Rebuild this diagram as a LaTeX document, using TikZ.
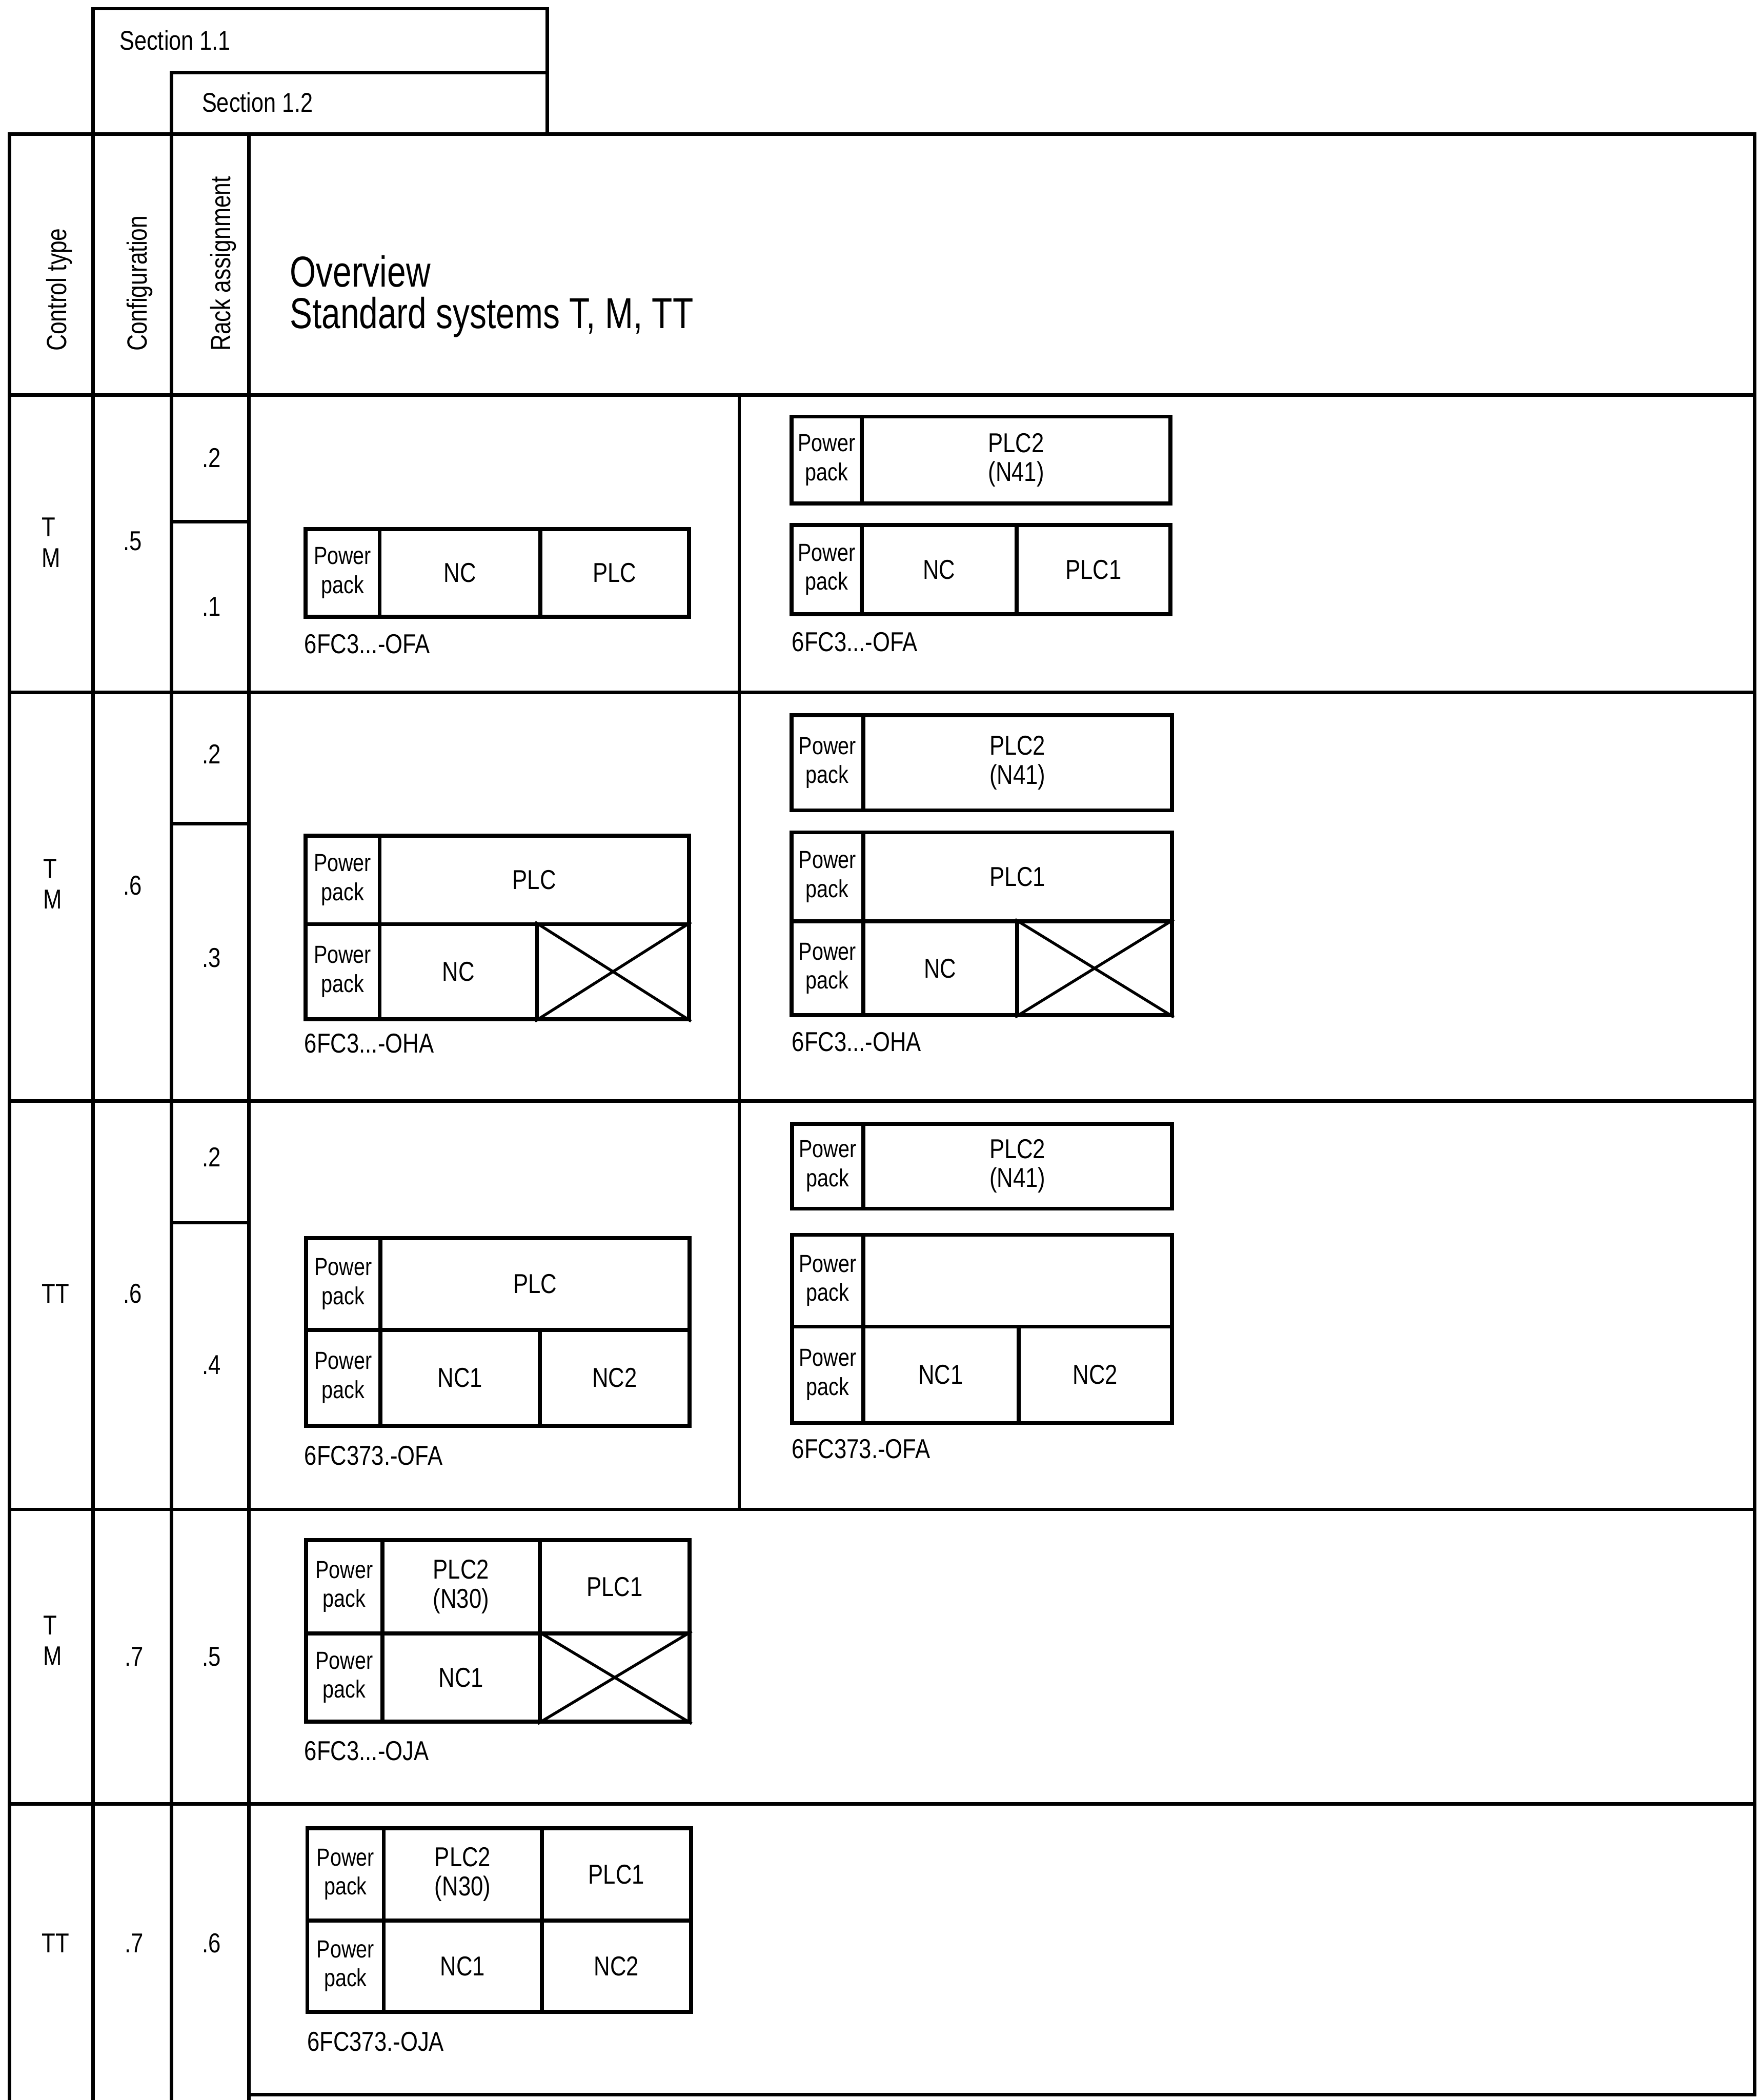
\documentclass[tikz,border=0pt]{standalone}
\usepackage{fontspec}
\setmainfont{Liberation Sans}[FakeStretch=0.82]
\newfontfamily\titlefont{Liberation Sans}[FakeStretch=0.78]

\begin{document}
\begin{tikzpicture}[
  x=0.2mm, y=-0.2mm,
  gridline/.style={line width=1.5pt, line cap=rect},
  cellbox/.style n args={4}{at={(#1/2+#3/2,#2/2+#4/2)}, minimum width=(#3-#1)*0.2mm, minimum height=(#4-#2)*0.2mm},
  rackcell/.style={draw, line width=1.7pt, inner sep=0pt, align=center, font=\fontsize{11.6}{12.3}\selectfont},
  ppcell/.style={rackcell, font=\fontsize{10.5}{12.3}\selectfont},
  crossline/.style={line width=1.2pt},
  sect/.style={inner sep=0pt, anchor=west, font=\fontsize{11.5}{13}\selectfont},
  colhead/.style={inner sep=0pt, rotate=90, anchor=base west, font=\fontsize{11.8}{14}\selectfont},
  bigtitle/.style={inner sep=0pt, anchor=base west, font=\titlefont\fontsize{18.4}{22}\selectfont},
  ctype/.style={inner sep=0pt, anchor=west, align=left, font=\fontsize{11.6}{13}\selectfont},
  idx/.style={inner sep=0pt, font=\fontsize{11.6}{13}\selectfont},
  partno/.style={inner sep=0pt, anchor=west, font=\fontsize{11.6}{13}\selectfont}
]
\useasboundingbox (0,0) rectangle (1314,1568);

% table rules
\draw[gridline] (7,100) -- (7,1568);
\draw[gridline] (69.5,6.5) -- (69.5,1568);
\draw[gridline] (128,54) -- (128,1568);
\draw[gridline] (186,100) -- (186,1568);
\draw[gridline] (69.5,6.5) -- (408.5,6.5) -- (408.5,100);
\draw[gridline] (128,54) -- (408.5,54);
\draw[gridline] (7,100) -- (1310,100) -- (1310,1564) -- (186,1564);
\foreach \y in {295,517,822,1127,1347}
  \draw[gridline] (7,\y) -- (1310,\y);
\foreach \y in {389.5,615,913}
  \draw[gridline] (128,\y) -- (186,\y);
\draw[gridline] (552,295) -- (552,1127);

% header
\node[sect] (sec11) at (89,30) {Section 1.1};
\node[sect] (sec12) at (150.5,76.5) {Section 1.2};
\node[colhead] (hctl) at (49.5,262.5) {Control type};
\node[colhead] (hcfg) at (109.5,262.5) {Configuration};
\node[colhead] (hrack) at (172,262.5) {Rack assignment};
\node[bigtitle] (ov1) at (216,214) {Overview};
\node[bigtitle] (ov2) at (216,245) {Standard systems T, M, TT};

% row labels
\node[ctype] (ct1) at (31,405) {T\\M};
\node[idx] (cf1) at (99,404) {.5};
\node[idx] (ra1a) at (158,342) {.2};
\node[idx] (ra1b) at (158,453) {.1};

\node[ctype] (ct2) at (32,660) {T\\M};
\node[idx] (cf2) at (99,661) {.6};
\node[idx] (ra2a) at (158,563) {.2};
\node[idx] (ra2b) at (158,715) {.3};

\node[ctype] (ct3) at (31,966) {TT};
\node[idx] (cf3) at (99,966) {.6};
\node[idx] (ra3a) at (158,864) {.2};
\node[idx] (ra3b) at (158,1019) {.4};

\node[ctype] (ct4) at (32,1225) {T\\M};
\node[idx] (cf4) at (100,1237) {.7};
\node[idx] (ra4) at (158,1237) {.5};

\node[ctype] (ct5) at (31,1451) {TT};
\node[idx] (cf5) at (100,1451) {.7};
\node[idx] (ra5) at (158,1451) {.6};

% row 1
\node[ppcell, cellbox={228}{395}{283.5}{460.5}] (a1pp) {Power\\pack};
\node[rackcell, cellbox={283.5}{395}{403.5}{460.5}] (a1nc) {NC};
\node[rackcell, cellbox={403.5}{395}{514.5}{460.5}] (a1plc) {PLC};
\node[partno] (a1id) at (227,481) {6FC3...-OFA};

\node[ppcell, cellbox={591}{311}{643.5}{376}] (b1pp) {Power\\pack};
\node[rackcell, cellbox={643.5}{311}{874}{376}] (b1plc2) {PLC2\\(N41)};
\node[ppcell, cellbox={591}{392}{643.5}{458.5}] (b1pp2) {Power\\pack};
\node[rackcell, cellbox={643.5}{392}{759}{458.5}] (b1nc) {NC};
\node[rackcell, cellbox={759}{392}{874}{458.5}] (b1plc1) {PLC1};
\node[partno] (b1id) at (591,479.5) {6FC3...-OFA};

% row 2
\node[ppcell, cellbox={228}{624}{283.5}{690}] (a2pp) {Power\\pack};
\node[rackcell, cellbox={283.5}{624}{514.5}{690}] (a2plc) {PLC};
\node[ppcell, cellbox={228}{690}{283.5}{761}] (a2pp2) {Power\\pack};
\node[rackcell, cellbox={283.5}{690}{401}{761}] (a2nc) {NC};
\node[rackcell, cellbox={401}{690}{514.5}{761}] (a2x) {};
\draw[crossline] (a2x.north west) -- (a2x.south east) (a2x.south west) -- (a2x.north east);
\node[partno] (a2id) at (227,779) {6FC3...-OHA};

\node[ppcell, cellbox={591}{534}{644.5}{605}] (b2pp) {Power\\pack};
\node[rackcell, cellbox={644.5}{534}{875}{605}] (b2plc2) {PLC2\\(N41)};
\node[ppcell, cellbox={591}{621.5}{644.5}{688}] (b2pp2) {Power\\pack};
\node[rackcell, cellbox={644.5}{621.5}{875}{688}] (b2plc1) {PLC1};
\node[ppcell, cellbox={591}{688}{644.5}{758}] (b2pp3) {Power\\pack};
\node[rackcell, cellbox={644.5}{688}{759.5}{758}] (b2nc) {NC};
\node[rackcell, cellbox={759.5}{688}{875}{758}] (b2x) {};
\draw[crossline] (b2x.north west) -- (b2x.south east) (b2x.south west) -- (b2x.north east);
\node[partno] (b2id) at (591,778) {6FC3...-OHA};

% row 3
\node[ppcell, cellbox={228.5}{924.5}{284}{993}] (a3pp) {Power\\pack};
\node[rackcell, cellbox={284}{924.5}{515}{993}] (a3plc) {PLC};
\node[ppcell, cellbox={228.5}{993}{284}{1064.5}] (a3pp2) {Power\\pack};
\node[rackcell, cellbox={284}{993}{403}{1064.5}] (a3nc1) {NC1};
\node[rackcell, cellbox={403}{993}{515}{1064.5}] (a3nc2) {NC2};
\node[partno] (a3id) at (227,1087) {6FC373.-OFA};

\node[ppcell, cellbox={591.5}{839}{644.5}{902.5}] (b3pp) {Power\\pack};
\node[rackcell, cellbox={644.5}{839}{875}{902.5}] (b3plc2) {PLC2\\(N41)};
\node[ppcell, cellbox={591.5}{922}{644.5}{990.5}] (b3pp2) {Power\\pack};
\node[rackcell, cellbox={644.5}{922}{875}{990.5}] (b3free) {};
\node[ppcell, cellbox={591.5}{990.5}{644.5}{1062.5}] (b3pp3) {Power\\pack};
\node[rackcell, cellbox={644.5}{990.5}{760.5}{1062.5}] (b3nc1) {NC1};
\node[rackcell, cellbox={760.5}{990.5}{875}{1062.5}] (b3nc2) {NC2};
\node[partno] (b3id) at (591,1082) {6FC373.-OFA};

% row 4
\node[ppcell, cellbox={228.5}{1150}{285.5}{1219.5}] (a4pp) {Power\\pack};
\node[rackcell, cellbox={285.5}{1150}{403}{1219.5}] (a4plc2) {PLC2\\(N30)};
\node[rackcell, cellbox={403}{1150}{515}{1219.5}] (a4plc1) {PLC1};
\node[ppcell, cellbox={228.5}{1219.5}{285.5}{1285.5}] (a4pp2) {Power\\pack};
\node[rackcell, cellbox={285.5}{1219.5}{403}{1285.5}] (a4nc1) {NC1};
\node[rackcell, cellbox={403}{1219.5}{515}{1285.5}] (a4x) {};
\draw[crossline] (a4x.north west) -- (a4x.south east) (a4x.south west) -- (a4x.north east);
\node[partno] (a4id) at (227,1307.5) {6FC3...-OJA};

% row 5
\node[ppcell, cellbox={229.5}{1365}{286.5}{1434}] (a5pp) {Power\\pack};
\node[rackcell, cellbox={286.5}{1365}{404.5}{1434}] (a5plc2) {PLC2\\(N30)};
\node[rackcell, cellbox={404.5}{1365}{516}{1434}] (a5plc1) {PLC1};
\node[ppcell, cellbox={229.5}{1434}{286.5}{1502}] (a5pp2) {Power\\pack};
\node[rackcell, cellbox={286.5}{1434}{404.5}{1502}] (a5nc1) {NC1};
\node[rackcell, cellbox={404.5}{1434}{516}{1502}] (a5nc2) {NC2};
\node[partno] (a5id) at (229,1524.5) {6FC373.-OJA};
\end{tikzpicture}
\end{document}
